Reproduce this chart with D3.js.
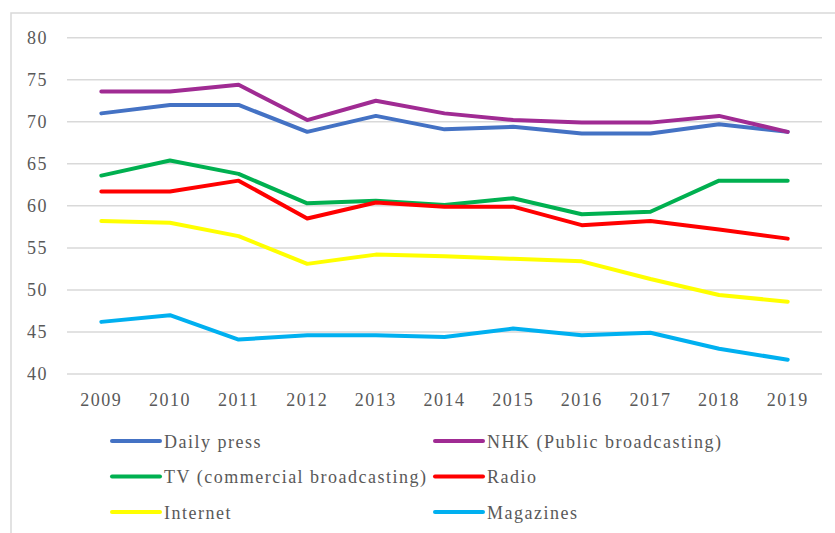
<!DOCTYPE html>
<html>
<head>
<meta charset="utf-8">
<script src="https://cdn.jsdelivr.net/npm/d3@7"></script>
<style>
  body { margin: 0; background: #fff; }
  svg text { font-family: "Liberation Serif", "Times New Roman", serif; fill: #595959; }
</style>
</head>
<body>
<div id="chart"></div>
<script>
// Data
const years = ["2009", "2010", "2011", "2012", "2013", "2014", "2015", "2016", "2017", "2018", "2019"];
const dailyPress = [71.0, 72.0, 72.0, 68.8, 70.7, 69.1, 69.4, 68.6, 68.6, 69.7, 68.8];
const nhk = [73.6, 73.6, 74.4, 70.2, 72.5, 71.0, 70.2, 69.9, 69.9, 70.7, 68.8];
const tv = [63.6, 65.4, 63.8, 60.3, 60.6, 60.1, 60.9, 59.0, 59.3, 63.0, 63.0];
const radio = [61.7, 61.7, 63.0, 58.5, 60.4, 59.9, 59.9, 57.7, 58.2, 57.2, 56.1];
const internet = [58.2, 58.0, 56.4, 53.1, 54.2, 54.0, 53.7, 53.4, 51.3, 49.4, 48.6];
const magazines = [46.2, 47.0, 44.1, 44.6, 44.6, 44.4, 45.4, 44.6, 44.9, 43.0, 41.7];
const yTicks = [40, 45, 50, 55, 60, 65, 70, 75, 80];

const series = [
  { name: "Daily press", values: dailyPress, color: "#4472C4" },
  { name: "NHK (Public broadcasting)", values: nhk, color: "#A02B93" },
  { name: "TV (commercial broadcasting)", values: tv, color: "#00B050" },
  { name: "Radio", values: radio, color: "#FF0000" },
  { name: "Internet", values: internet, color: "#FFFF00" },
  { name: "Magazines", values: magazines, color: "#00B0F0" }
];

const W = 835, H = 533;
const plot = { left: 67, right: 822, top: 37.7, bottom: 374 };

const svg = d3.select("#chart").append("svg")
  .attr("width", W)
  .attr("height", H);

// Outer chart border (right and bottom edges fall outside the picture)
svg.append("rect")
  .attr("x", 11).attr("y", 13)
  .attr("width", 850).attr("height", 560)
  .attr("fill", "none")
  .attr("stroke", "#d9d9d9")
  .attr("stroke-width", 1.5);

const x = d3.scaleBand().domain(years).range([plot.left, plot.right]);
const y = d3.scaleLinear().domain([40, 80]).range([plot.bottom, plot.top]);

// Gridlines
svg.append("g")
  .selectAll("line")
  .data(yTicks)
  .enter()
  .append("line")
  .attr("x1", plot.left)
  .attr("x2", plot.right)
  .attr("y1", d => y(d))
  .attr("y2", d => y(d))
  .attr("stroke", "#d9d9d9")
  .attr("stroke-width", 1.5);

// Y axis labels
const yAxis = svg.append("g")
  .attr("transform", "translate(48,0)")
  .call(d3.axisLeft(y).tickValues(yTicks).tickSize(0).tickPadding(0));
yAxis.select(".domain").remove();
yAxis.selectAll("text")
  .attr("dy", "0.32em")
  .style("font-size", "18px")
  .style("letter-spacing", "1.5px")
  .style("fill", "#595959")
  .style("font-family", "'Liberation Serif', serif");

// X axis labels
const xAxis = svg.append("g")
  .attr("transform", "translate(0," + plot.bottom + ")")
  .call(d3.axisBottom(x).tickSize(0).tickPadding(0));
xAxis.select(".domain").remove();
xAxis.selectAll("text")
  .attr("y", 32)
  .attr("dy", 0)
  .style("font-size", "18px")
  .style("letter-spacing", "1.5px")
  .style("fill", "#595959")
  .style("font-family", "'Liberation Serif', serif");

// Lines
const line = d3.line()
  .x((d, i) => x(years[i]) + x.bandwidth() / 2)
  .y(d => y(d));

svg.append("g")
  .selectAll("path")
  .data(series)
  .enter()
  .append("path")
  .attr("d", d => line(d.values))
  .attr("fill", "none")
  .attr("stroke", d => d.color)
  .attr("stroke-width", 4)
  .attr("stroke-linejoin", "round")
  .attr("stroke-linecap", "round");

// Legend: two columns, three rows
const legendCols = [112, 435];
const legendRows = [441, 476.5, 512];

const legend = svg.append("g")
  .selectAll("g")
  .data(series)
  .enter()
  .append("g")
  .attr("transform", (d, i) =>
    "translate(" + legendCols[i % 2] + "," + legendRows[Math.floor(i / 2)] + ")");

legend.append("line")
  .attr("x1", 0)
  .attr("x2", 48)
  .attr("stroke", d => d.color)
  .attr("stroke-width", 4)
  .attr("stroke-linecap", "round");

legend.append("text")
  .attr("x", 52)
  .attr("y", 6.5)
  .style("font-size", "18px")
  .style("letter-spacing", "1.5px")
  .text(d => d.name);
</script>
</body>
</html>
